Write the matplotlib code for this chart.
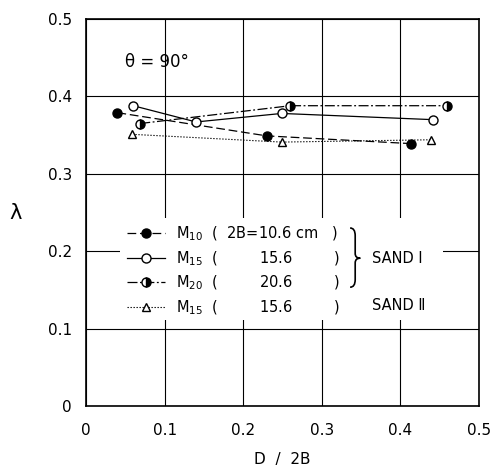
import numpy as np
import matplotlib
matplotlib.use("Agg")
import matplotlib.pyplot as plt
from matplotlib.patches import Rectangle, PathPatch
from matplotlib.path import Path

# lambda vs D/2B at theta = 90 deg
d_m10 = [0.040, 0.230, 0.414]
lam_m10 = [0.379, 0.349, 0.339]

d_m15 = [0.060, 0.140, 0.249, 0.441]
lam_m15 = [0.388, 0.367, 0.378, 0.370]

d_m20 = [0.069, 0.260, 0.459]
lam_m20 = [0.365, 0.388, 0.388]

d_m15b = [0.059, 0.249, 0.439]
lam_m15b = [0.351, 0.341, 0.344]

labels = [r"M$_{10}$  (  2B=10.6 cm   )",
          r"M$_{15}$  (         15.6         )",
          r"M$_{20}$  (         20.6         )",
          r"M$_{15}$  (         15.6         )"]
ticks = [0, 0.1, 0.2, 0.3, 0.4, 0.5]
tick_labels = ["0", "0.1", "0.2", "0.3", "0.4", "0.5"]

plt.rcParams['font.family'] = ['DejaVu Sans']
fig = plt.figure(figsize=(4.96, 4.72), dpi=100)
ax = fig.add_axes([0.1734, 0.1398, 0.7923, 0.8199])

ax.set_xlim(0, 0.5)
ax.set_ylim(0, 0.5)
ax.set_xticks(ticks)
ax.set_yticks(ticks)
ax.set_xticklabels(tick_labels)
ax.set_yticklabels(tick_labels)
ax.tick_params(length=0, labelsize=11, pad=12)
ax.tick_params(axis='y', pad=10)
ax.grid(True, color='black', linewidth=0.8)
ax.set_axisbelow(True)
for s in ax.spines.values():
    s.set_linewidth(1.2)

kw = dict(color='black', linewidth=0.9, markersize=6.5, markeredgewidth=1.0, zorder=4)
l1, = ax.plot(d_m10, lam_m10, marker='o', markerfacecolor='black',
              dashes=(7, 3), **kw)
l2, = ax.plot(d_m15, lam_m15, marker='o', markerfacecolor='white',
              linestyle='-', **kw)
l3, = ax.plot(d_m20, lam_m20, marker='o', fillstyle='right',
              markerfacecolor='black', markerfacecoloralt='white',
              dashes=(8, 2, 1.5, 2), **kw)
l4, = ax.plot(d_m15b, lam_m15b, marker='^', markerfacecolor='white',
              dashes=(1.2, 1.5), markersize=6, color='black',
              linewidth=0.8, markeredgewidth=1.0, zorder=4)

# blank panel under the key
ax.add_patch(Rectangle((0.087, 0.222), 0.821, 0.264, transform=ax.transAxes,
                       facecolor='white', edgecolor='none', zorder=2))

leg = ax.legend([l1, l2, l3, l4], labels, loc='upper left',
                bbox_to_anchor=(0.085, 0.487), frameon=False, fontsize=10.5,
                handlelength=2.6, handletextpad=0.8, labelspacing=0.42,
                borderpad=0)
leg.set_zorder(5)

# thin curly brace grouping the SAND I series
bx, top, mid, bot = 0.685, 0.460, 0.382, 0.307
w = 0.013
verts = [(bx - w, top), (bx, top), (bx, top - 0.02),
         (bx, mid + 0.012),
         (bx, mid), (bx + w, mid),
         (bx, mid), (bx, mid - 0.012),
         (bx, bot + 0.02),
         (bx, bot), (bx - w, bot)]
codes = [Path.MOVETO, Path.CURVE3, Path.CURVE3,
         Path.LINETO,
         Path.CURVE3, Path.CURVE3,
         Path.CURVE3, Path.CURVE3,
         Path.LINETO,
         Path.CURVE3, Path.CURVE3]
ax.add_patch(PathPatch(Path(verts, codes), transform=ax.transAxes,
                       facecolor='none', edgecolor='black', linewidth=1.2,
                       zorder=6))

ax.text(0.728, 0.380, "SAND Ⅰ", fontsize=10.5, ha='left', va='center',
        transform=ax.transAxes, zorder=6)
ax.text(0.728, 0.261, "SAND Ⅱ", fontsize=10.5, ha='left', va='center',
        transform=ax.transAxes, zorder=6)

ax.text(0.05, 0.444, "θ = 90°", fontsize=12, ha='left', va='center')

ax.set_xlabel("D  /  2B", fontsize=11, labelpad=10)
ax.set_ylabel("λ", fontsize=15, rotation=0, va='center', ha='center')
ax.yaxis.set_label_coords(-0.18, 0.5)

fig.savefig("out.png", dpi=100)
